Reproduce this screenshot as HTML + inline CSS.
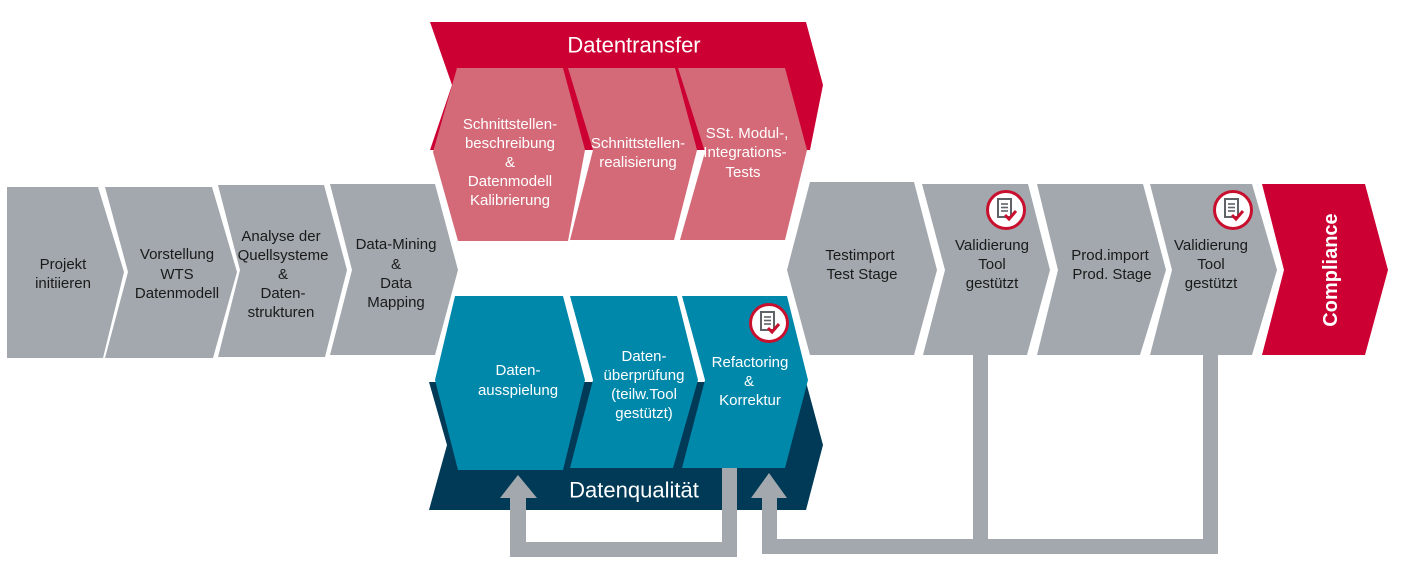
<!DOCTYPE html>
<html><head><meta charset="utf-8"><style>
html,body{margin:0;padding:0;background:#fff;}
svg{display:block;}
text{font-family:"Liberation Sans",Arial,sans-serif;}
.g{fill:#a2a8ad}
.d{fill:#1a1a1a;font-size:15px;text-anchor:middle;dominant-baseline:central}
.w{fill:#fff;font-size:15px;text-anchor:middle;dominant-baseline:central}
</style></head><body>
<svg width="1401" height="567" viewBox="0 0 1401 567" xmlns="http://www.w3.org/2000/svg">
<defs>
<g id="ic">
<circle r="18.5" fill="#fff" stroke="#c8102e" stroke-width="3"/>
<rect x="-8" y="-11" width="13" height="18" fill="none" stroke="#5f6368" stroke-width="2"/>
<line x1="-5" y1="-6" x2="2" y2="-6" stroke="#5f6368" stroke-width="1.6"/>
<line x1="-5" y1="-2.5" x2="2" y2="-2.5" stroke="#5f6368" stroke-width="1.6"/>
<line x1="-5" y1="1" x2="2" y2="1" stroke="#5f6368" stroke-width="1.6"/>
<polyline points="-1,5 3,9 10,1" fill="none" stroke="#c8102e" stroke-width="3"/>
</g>
</defs>

<!-- left gray chevrons -->
<polygon class="g" points="7,187 98,187 124,272 103,358 7,358"/>
<polygon class="g" points="105,187 212,187 237,272 213,358 105,358 128,272"/>
<polygon class="g" points="218,185 324,185 347,270 325,357 218,357 240,270"/>
<polygon class="g" points="330,184 435,184 458,270 435,355 330,355 352,270"/>
<text class="d"><tspan x="63" y="264">Projekt</tspan><tspan x="63" y="283">initiieren</tspan></text>
<text class="d"><tspan x="177" y="254">Vorstellung</tspan><tspan x="177" y="274">WTS</tspan><tspan x="177" y="293">Datenmodell</tspan></text>
<text class="d"><tspan x="281" y="236">Analyse der</tspan><tspan x="283" y="255">Quellsysteme</tspan><tspan x="283" y="274">&amp;</tspan><tspan x="283" y="293">Daten-</tspan><tspan x="281" y="312">strukturen</tspan></text>
<text class="d"><tspan x="396" y="244">Data-Mining</tspan><tspan x="396" y="264">&amp;</tspan><tspan x="396" y="283">Data</tspan><tspan x="396" y="302">Mapping</tspan></text>

<!-- Datentransfer -->
<polygon fill="#cc0033" points="430,22 806,22 823,85 810,150 430,150 452,85"/>
<text x="634" y="45" fill="#fff" font-size="22" text-anchor="middle" dominant-baseline="central">Datentransfer</text>
<g fill="#d46a78">
<polygon points="457,68 563,68 585,150 568,241 458,241 433,152"/>
<polygon points="568,68 675,68 697,150 674,240 570,240 593,150"/>
<polygon points="678,68 785,68 807,150 785,240 680,240 705,152"/>
</g>
<text class="w"><tspan x="510" y="124">Schnittstellen-</tspan><tspan x="510" y="143">beschreibung</tspan><tspan x="510" y="162">&amp;</tspan><tspan x="510" y="181">Datenmodell</tspan><tspan x="510" y="200">Kalibrierung</tspan></text>
<text class="w"><tspan x="638" y="143">Schnittstellen-</tspan><tspan x="638" y="162">realisierung</tspan></text>
<text class="w"><tspan x="747" y="133">SSt. Modul-,</tspan><tspan x="745" y="152">Integrations-</tspan><tspan x="743" y="172">Tests</tspan></text>

<!-- Datenqualität -->
<polygon fill="#003a57" points="429,382 806,382 823,445 806,510 429,510 447,445"/>
<text x="634" y="490" fill="#fff" font-size="22" text-anchor="middle" dominant-baseline="central">Datenqualität</text>
<g fill="#0088ab">
<polygon points="455,296 563,296 585,380 563,470 458,470 435,380"/>
<polygon points="570,296 677,296 698,380 673,468 570,468 593,380"/>
<polygon points="682,296 787,296 808,380 785,468 682,468 705,380"/>
</g>
<text class="w"><tspan x="518" y="370">Daten-</tspan><tspan x="518" y="390">ausspielung</tspan></text>
<text class="w"><tspan x="644" y="356">Daten-</tspan><tspan x="644" y="375">überprüfung</tspan><tspan x="644" y="394">(teilw.Tool</tspan><tspan x="644" y="413">gestützt)</tspan></text>
<text class="w"><tspan x="750" y="362">Refactoring</tspan><tspan x="749" y="381">&amp;</tspan><tspan x="750" y="400">Korrektur</tspan></text>
<use href="#ic" x="769" y="323"/>

<!-- connectors -->
<g fill="#a2a8ad">
<rect x="722" y="468" width="15" height="89"/>
<rect x="510" y="542" width="227" height="15"/>
<rect x="510" y="495" width="16" height="62"/>
<polygon points="500,498 537,498 518,475"/>
<rect x="762" y="495" width="15" height="59"/>
<rect x="762" y="539" width="456" height="15"/>
<polygon points="751,498 787,498 769,473"/>
<rect x="973" y="350" width="15" height="195"/>
<rect x="1203" y="350" width="15" height="204"/>
</g>

<!-- right chevrons -->
<polygon class="g" points="810,182 914,182 937,270 914,355 810,355 787,270"/>
<polygon class="g" points="922,184 1028,184 1050,270 1027,355 923,355 945,270"/>
<polygon class="g" points="1037,184 1143,184 1166,270 1140,355 1037,355 1058,270"/>
<polygon class="g" points="1150,184 1252,184 1277,270 1252,355 1150,355 1172,270"/>
<polygon fill="#cc0033" points="1262,184 1365,184 1388,270 1365,355 1262,355 1284,270"/>
<text class="d"><tspan x="860" y="255">Testimport</tspan><tspan x="862" y="274">Test Stage</tspan></text>
<text class="d"><tspan x="992" y="245">Validierung</tspan><tspan x="992" y="264">Tool</tspan><tspan x="992" y="283">gestützt</tspan></text>
<text class="d"><tspan x="1110" y="255">Prod.import</tspan><tspan x="1112" y="274">Prod. Stage</tspan></text>
<text class="d"><tspan x="1211" y="245">Validierung</tspan><tspan x="1211" y="264">Tool</tspan><tspan x="1211" y="283">gestützt</tspan></text>
<text x="1331" y="270" fill="#fff" font-size="20" font-weight="bold" text-anchor="middle" dominant-baseline="central" transform="rotate(-90 1331 270)">Compliance</text>
<use href="#ic" x="1006" y="210"/>
<use href="#ic" x="1233" y="210"/>
</svg>
</body></html>
